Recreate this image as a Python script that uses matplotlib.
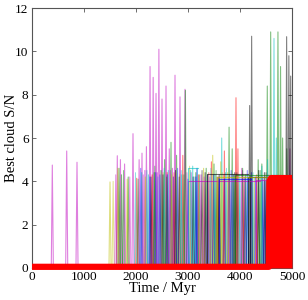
import matplotlib
matplotlib.use("Agg")
import matplotlib.pyplot as plt

# spike peaks: time of peak [Myr] and S/N per colour
m_t = [390, 667, 865, 1640, 1700, 1780, 1942, 2060, 2115, 2170, 2200, 2270, 2330, 2385,
       2440, 2500, 2577, 2640, 2700, 2750, 2846, 2942, 3060, 3250, 3600, 3800, 4050, 4960]
m_p = [4.75, 5.4, 4.88, 5.18, 5.0, 4.8, 6.2, 5.0, 5.3, 4.5, 5.6, 9.3, 8.8, 8.06,
       10.1, 7.8, 8.4, 5.5, 4.6, 8.9, 7.9, 8.25, 4.4, 4.3, 4.2, 4.3, 4.5, 5.5]

g_t = [1673, 1720, 1850, 2350, 2480, 2550, 2673, 2780, 2950, 3150, 3350, 3500, 3790,
       3850, 4050, 4350, 4420, 4525, 4590, 4730, 4780, 4820, 4900]
g_p = [4.6, 4.3, 4.2, 4.4, 4.5, 5.0, 5.8, 5.2, 8.2, 4.4, 4.6, 4.8, 6.5,
       5.5, 4.6, 5.0, 4.8, 8.4, 10.9, 10.9, 9.3, 6.0, 5.5]

c_t = [2109, 2240, 2420, 2620, 2880, 3050, 3090, 3180, 3420, 3520, 3648, 3720, 3980,
       4150, 4420, 4530, 4654, 4700]
c_p = [4.4, 4.3, 4.2, 4.5, 4.3, 4.5, 4.7, 4.6, 4.2, 4.3, 6.0, 4.4, 4.3,
       4.2, 4.7, 5.0, 10.6, 6.0]

y_t = [1500, 1650, 1830, 2180, 2520, 2840, 3300, 3475, 3630, 3760, 4280]
y_p = [3.97, 4.6, 4.1, 4.2, 4.4, 4.3, 4.6, 5.2, 4.9, 4.4, 4.2]

r_t = [2013, 2310, 2600, 2900, 3200, 3450, 3560, 3700, 3923, 3960, 4080]
r_p = [4.14, 4.3, 4.4, 5.2, 4.3, 4.9, 4.2, 5.4, 7.86, 5.5, 4.2]

b_t = [2269, 2380, 2600, 2720, 3000, 3150, 3380, 3700, 3870, 4100, 4220, 4300, 4480]
b_p = [4.2, 4.4, 4.3, 4.2, 4.1, 4.2, 4.3, 4.1, 4.3, 4.2, 4.4, 4.2, 4.0]

k_t = [2520, 2760, 3100, 3330, 3600, 3900, 4186, 4224, 4360, 4470, 4897, 4940, 4975]
k_p = [4.3, 4.5, 4.2, 4.4, 4.3, 4.4, 7.5, 10.7, 4.5, 4.4, 10.68, 9.8, 8.86]

# the crowd of low spikes filling 1500-4550 Myr
extra_t = [1560, 1610, 1760, 1880, 1990, 2040, 2090, 2140, 2210, 2290, 2360, 2410, 2460,
           2540, 2590, 2660, 2690, 2730, 2800, 2830, 2870, 2920, 2980, 3030, 3120, 3170,
           3220, 3270, 3310, 3400, 3440, 3490, 3540, 3580, 3660, 3690, 3740, 3780, 3830,
           3880, 3940, 4000, 4030, 4110, 4140, 4200, 4250, 4320, 4390, 4440, 4500, 4540]
extra_p = [4.0, 4.3, 4.5, 4.2, 4.4, 4.1, 4.6, 4.3, 4.5, 4.2, 4.7, 4.4, 4.3,
           4.6, 4.2, 4.5, 4.3, 4.4, 4.6, 4.2, 4.5, 4.3, 4.4, 4.7, 4.2, 4.6,
           4.3, 4.5, 4.2, 4.4, 4.6, 4.3, 4.5, 4.2, 4.4, 4.3, 4.6, 4.2, 4.5,
           4.3, 4.4, 4.2, 4.6, 4.3, 4.5, 4.2, 4.4, 4.3, 4.5, 4.2, 4.4, 4.3]
extra_c = ["y", "m", "g", "m", "c", "g", "b", "m", "c", "k", "g", "m", "b",
           "c", "g", "m", "y", "r", "b", "k", "c", "g", "m", "y", "c", "b",
           "g", "k", "m", "r", "c", "b", "g", "k", "y", "r", "c", "m", "b",
           "g", "k", "c", "m", "g", "b", "k", "c", "r", "g", "b", "k", "m"]

# runs that sit on a plateau near S/N ~ 4
flat_c = ["m", "k", "k", "y", "g", "b", "c", "m"]
flat_t0 = [3000, 3360, 4155, 3552, 3900, 3590, 3000, 4300]
flat_t1 = [4385, 4155, 5000, 5000, 5000, 4210, 3200, 5000]
flat_v = [4.0, 4.34, 4.2, 4.2, 4.3, 4.09, 4.6, 4.05]

# the red run: zero until ~4560 Myr then ~4.15
red_t = [0, 4555, 4565, 4600, 4640, 4860, 4875, 4890, 5000]
red_v = [0.05, 0.05, 4.0, 4.15, 4.15, 4.15, 3.8, 4.15, 4.15]

spikes = {"m": (m_t, m_p), "g": (g_t, g_p), "c": (c_t, c_p), "y": (y_t, y_p),
          "r": (r_t, r_p), "b": (b_t, b_p), "k": (k_t, k_p)}
half_w = 20  # half width of a spike in Myr

plt.rcParams["font.family"] = ["Liberation Serif", "DejaVu Serif"]

fig = plt.figure(figsize=(3.08, 3.0), dpi=100)
ax = fig.add_axes([0.104, 0.107, 0.844, 0.866])

for col, (ts, ps) in spikes.items():
    for t, p in zip(ts, ps):
        ax.plot([t - half_w, t, t + half_w], [0, p, 0], color=col, lw=0.8, alpha=0.5)

for t, p, col in zip(extra_t, extra_p, extra_c):
    ax.plot([t - half_w, t, t + half_w], [0, p, 0], color=col, lw=0.7, alpha=0.45)

for col, t0, t1, v in zip(flat_c, flat_t0, flat_t1, flat_v):
    ax.plot([t0, t0, t1], [0, v, v], color=col, lw=0.8, alpha=0.6)

ax.fill_between(red_t, 0, red_v, color="r", lw=0, zorder=5)
ax.plot(red_t, red_v, color="r", lw=4.5, solid_capstyle="butt", clip_on=False, zorder=6)

ax.set_xlim(0, 5000)
ax.set_ylim(0, 12)
ax.set_xticks([0, 1000, 2000, 3000, 4000, 5000])
ax.set_yticks([0, 2, 4, 6, 8, 10, 12])
ax.tick_params(direction="in", top=True, right=True, length=3, width=0.6,
               color="#555555", labelsize=9.5, pad=2.5)
for s in ax.spines.values():
    s.set_color("#555555")
    s.set_linewidth(0.8)
ax.set_xlabel("Time / Myr", fontsize=10.5, labelpad=-1)
ax.set_ylabel("Best cloud S/N", fontsize=10.5, labelpad=-2)

fig.savefig("out.png", dpi=100)
